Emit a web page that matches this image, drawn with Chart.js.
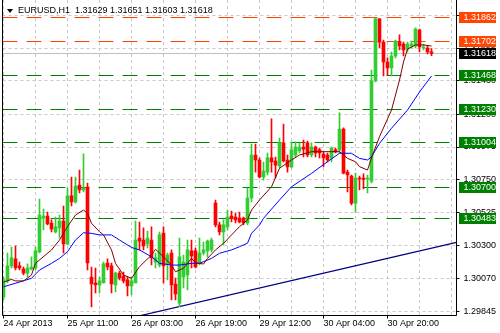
<!DOCTYPE html>
<html>
<head>
<meta charset="utf-8">
<script src="https://cdn.jsdelivr.net/npm/chart.js@4.4.1/dist/chart.umd.min.js"></script>
<style>
  html, body { margin: 0; padding: 0; background: #fff; }
  #wrap { position: relative; width: 500px; height: 333px; overflow: hidden; }
  #title { position: absolute; left: 18px; top: 5px; font: 9px 'Liberation Sans'; line-height: 11px; white-space: pre; color: #000; }
  #tri { position: absolute; left: 7px; top: 9px; width: 0; height: 0;
         border-left: 3px solid transparent; border-right: 3px solid transparent; border-top: 4px solid #000; }
</style>
</head>
<body>
<div id="wrap">
  <canvas id="chart" width="500" height="333"></canvas>
  <div id="tri"></div>
  <div id="title"></div>
</div>
<script>
const symbol = 'EURUSD,H1';

// hourly bars
const opens = [1.29945,1.30055,1.30158,1.30206,1.30158,1.30137,1.30109,1.30137,1.30144,1.30254,
  1.30487,1.30501,1.30453,1.30391,1.30419,1.30467,1.30309,1.30639,1.30597,1.30714,
  1.30680,1.30700,1.30082,1.30041,1.30028,1.30041,1.30178,1.30158,1.30028,1.30109,
  1.30089,1.30062,1.30021,1.30041,1.30350,1.30336,1.30309,1.30336,1.30185,1.30165,
  1.30384,1.30171,1.30247,1.30034,1.29903,1.30082,1.30096,1.30261,1.30261,1.30178,
  1.30247,1.30261,1.30268,1.30590,1.30440,1.30391,1.30426,1.30501,1.30494,1.30487,
  1.30487,1.30453,1.30625,1.30920,1.30886,1.30769,1.30803,1.30900,1.30879,1.30845,
  1.31003,1.30886,1.30838,1.30920,1.30948,1.30975,1.31003,1.30920,1.30975,1.30955,
  1.30927,1.30920,1.30900,1.30955,1.30955,1.31099,1.30803,1.30776,1.30590,1.30762,
  1.30762,1.30755,1.30741,1.31429,1.31855,1.31696,1.31559,1.31518,1.31600,1.31696,
  1.31683,1.31648,1.31669,1.31669,1.31779,1.31655,1.31655,1.31629];
const highs = [1.30082,1.30247,1.30288,1.30295,1.30185,1.30151,1.30172,1.30220,1.30288,1.30618,
  1.30549,1.30528,1.30474,1.30494,1.30508,1.30570,1.30693,1.30769,1.30769,1.30817,
  1.30928,1.30727,1.30151,1.30144,1.30082,1.30185,1.30206,1.30178,1.30116,1.30123,
  1.30116,1.30082,1.30082,1.30467,1.30460,1.30419,1.30398,1.30426,1.30247,1.30391,
  1.30426,1.30247,1.30268,1.30075,1.30350,1.30233,1.30336,1.30336,1.30281,1.30350,
  1.30322,1.30336,1.30350,1.30611,1.30460,1.30474,1.30542,1.30535,1.30521,1.30528,
  1.30494,1.30693,1.30996,1.30996,1.30900,1.30872,1.30934,1.31168,1.30906,1.31037,
  1.31133,1.30920,1.31010,1.31010,1.31003,1.31023,1.31016,1.31003,1.30982,1.30968,
  1.30941,1.30934,1.30975,1.30968,1.31209,1.31106,1.30817,1.30783,1.30796,1.30776,
  1.30790,1.30783,1.31504,1.31862,1.31858,1.31710,1.31587,1.31628,1.31710,1.31745,
  1.31696,1.31696,1.31703,1.31793,1.31786,1.31683,1.31669,1.31651];
const lows = [1.29924,1.30041,1.30144,1.30130,1.30130,1.30096,1.30082,1.30130,1.30130,1.30247,
  1.30405,1.30440,1.30391,1.30384,1.30350,1.30247,1.30302,1.30570,1.30590,1.30659,
  1.30666,1.30130,1.29876,1.29972,1.29972,1.30041,1.30130,1.29972,1.29979,1.30062,
  1.30041,1.29952,1.29959,1.30041,1.30268,1.30268,1.30281,1.30165,1.30144,1.30151,
  1.30041,1.30062,1.29924,1.29924,1.29876,1.30007,1.29993,1.30144,1.30144,1.30165,
  1.30233,1.30220,1.30254,1.30426,1.30371,1.30302,1.30405,1.30460,1.30453,1.30453,
  1.30440,1.30440,1.30597,1.30803,1.30762,1.30748,1.30783,1.30803,1.30762,1.30831,
  1.30872,1.30803,1.30831,1.30907,1.30934,1.30907,1.30907,1.30907,1.30907,1.30900,
  1.30838,1.30872,1.30872,1.30934,1.30934,1.30790,1.30666,1.30577,1.30528,1.30680,
  1.30687,1.30659,1.30728,1.31422,1.31655,1.31463,1.31470,1.31463,1.31587,1.31642,
  1.31600,1.31628,1.31655,1.31655,1.31628,1.31642,1.31614,1.31603];
const closes = [1.30062,1.30158,1.30213,1.30144,1.30144,1.30109,1.30144,1.30151,1.30261,1.30508,
  1.30501,1.30447,1.30412,1.30426,1.30467,1.30309,1.30639,1.30597,1.30707,1.30680,
  1.30693,1.30178,1.30034,1.30028,1.30055,1.30172,1.30151,1.30034,1.30109,1.30075,
  1.30055,1.30021,1.30055,1.30336,1.30329,1.30295,1.30350,1.30213,1.30213,1.30371,
  1.30158,1.30233,1.30028,1.29965,1.30220,1.30185,1.30268,1.30226,1.30151,1.30247,
  1.30268,1.30329,1.30336,1.30440,1.30391,1.30440,1.30494,1.30487,1.30474,1.30460,
  1.30453,1.30625,1.30920,1.30886,1.30769,1.30810,1.30900,1.30872,1.30851,1.31003,
  1.30879,1.30838,1.30955,1.30975,1.30975,1.30961,1.30920,1.30975,1.30934,1.30934,
  1.30900,1.30886,1.30968,1.30941,1.31099,1.30796,1.30783,1.30590,1.30762,1.30755,
  1.30752,1.30762,1.31429,1.31855,1.31696,1.31559,1.31518,1.31600,1.31703,1.31669,
  1.31642,1.31683,1.31683,1.31786,1.31662,1.31662,1.31628,1.31618];

// moving averages, read at selected bars
const fastMaBars = [0,2,3,5,7,8,12,14,16,18,20,21,22,24,25,27,28,30,32,34,37,38,40,42,43,45,47,48,50,51,53,55,57,59,61,62,64,67,69,72,74,77,79,82,84,86,88,89,91,92,94,97,99,100,101,103,105,107];
const fastMaVals = [1.30046,1.30066,1.30055,1.30055,1.30096,1.30176,1.30268,1.30336,1.30428,1.30508,1.30542,1.30520,1.30451,1.30393,1.30371,1.30268,1.30176,1.30096,1.30073,1.30153,1.30233,1.30272,1.30221,1.30164,1.30118,1.30142,1.30210,1.30180,1.30171,1.30210,1.30268,1.30313,1.30371,1.30428,1.30474,1.30542,1.30611,1.30702,1.30829,1.30886,1.30920,1.30943,1.30943,1.30943,1.30943,1.30897,1.30874,1.30840,1.30817,1.30900,1.31046,1.31229,1.31435,1.31559,1.31648,1.31676,1.31676,1.31669];
const slowMaBars = [0,3,7,9,12,14,16,18,20,22,24,27,29,32,34,37,39,42,44,47,49,52,54,57,59,61,62,64,65,69,72,77,81,84,87,89,91,92,94,97,101,104,107];
const slowMaVals = [1.30015,1.30039,1.30073,1.30130,1.30176,1.30210,1.30256,1.30336,1.30386,1.30382,1.30371,1.30371,1.30336,1.30285,1.30268,1.30221,1.30176,1.30164,1.30164,1.30176,1.30176,1.30210,1.30245,1.30268,1.30290,1.30314,1.30382,1.30439,1.30485,1.30611,1.30702,1.30794,1.30874,1.30932,1.30932,1.30897,1.30886,1.30908,1.31000,1.31104,1.31229,1.31353,1.31463];

// trend line anchors
const trendBars = [20, 113.25];
const trendVals = [1.29726, 1.30320];

// horizontal levels
const resistLevels = [1.31862, 1.31702];
const supportLevels = [1.31468, 1.31230, 1.31004, 1.30700, 1.30483];

// axes
const priceTicks = [1.29845, 1.30070, 1.30300, 1.30525, 1.30750, 1.30975, 1.31200, 1.31430, 1.31655, 1.31880];
const gridBars = [0, 8, 16, 24, 32, 40, 48, 56, 64, 72, 80, 88, 96, 104, 112];
const labelBars = [0, 16, 32, 48, 64, 80, 96];
const labelTexts = ['24 Apr 2013', '25 Apr 11:00', '26 Apr 03:00', '26 Apr 19:00', '29 Apr 12:00', '30 Apr 04:00', '30 Apr 20:00'];

const last = closes.length - 1;
const lastPrice = closes[last];
document.getElementById('title').textContent =
  symbol + '  ' + [opens[last], highs[last], lows[last], closes[last]].map(v => v.toFixed(5)).join(' ');

const X_MIN = -0.25, X_MAX = 113.25;
const GREEN = '#32cd32', RED = '#ff0000';

const idx = opens.map((_, i) => i);
const isUp = i => closes[i] >= opens[i];
const upIdx = idx.filter(isUp);
const dnIdx = idx.filter(i => !isUp(i));

function levelSet(v, color, dash) {
  return {
    type: 'line', data: [{x: X_MIN, y: v}, {x: X_MAX, y: v}],
    borderColor: color, borderWidth: 1, borderDash: dash,
    pointRadius: 0, order: 6, snap: true
  };
}

const datasets = [
  ...resistLevels.map(v => levelSet(v, '#ff4500', [15, 9])),
  ...supportLevels.map(v => levelSet(v, '#008000', [15, 9])),
  levelSet(lastPrice, '#c0c0c0', []),
  {type: 'line', data: trendBars.map((b, k) => ({x: b, y: trendVals[k]})),
   borderColor: '#000080', borderWidth: 1.2, pointRadius: 0, order: 4},
  {type: 'bar', data: upIdx.map(i => ({x: i, y: [lows[i], highs[i]]})),
   backgroundColor: GREEN, barThickness: 1, grouped: false, order: 3},
  {type: 'bar', data: dnIdx.map(i => ({x: i, y: [lows[i], highs[i]]})),
   backgroundColor: RED, barThickness: 1, grouped: false, order: 3},
  {type: 'bar', data: upIdx.map(i => ({x: i, y: [opens[i], closes[i]]})),
   backgroundColor: GREEN, barThickness: 3, minBarLength: 1, grouped: false, order: 2},
  {type: 'bar', data: dnIdx.map(i => ({x: i, y: [opens[i], closes[i]]})),
   backgroundColor: RED, barThickness: 3, minBarLength: 1, grouped: false, order: 2},
  {type: 'line', data: slowMaBars.map((b, k) => ({x: b, y: slowMaVals[k]})),
   borderColor: '#0000ff', borderWidth: 1, pointRadius: 0, order: 1},
  {type: 'line', data: fastMaBars.map((b, k) => ({x: b, y: fastMaVals[k]})),
   borderColor: '#800000', borderWidth: 1, pointRadius: 0, order: 0}
];

// keep horizontal level lines on whole pixels
const snapLines = {
  id: 'snapLines',
  beforeDatasetDraw(chart, args) {
    const ds = chart.data.datasets[args.index];
    if (!ds.snap) return;
    const py = chart.scales.y.getPixelForValue(ds.data[0].y);
    chart.ctx.save();
    chart.ctx.translate(0, Math.floor(py) + 0.5 - py);
  },
  afterDatasetDraw(chart, args) {
    if (chart.data.datasets[args.index].snap) chart.ctx.restore();
  }
};

// frame and price boxes on the right axis
const mtDecor = {
  id: 'mtDecor',
  afterDraw(chart) {
    const {ctx, chartArea: a, scales: {y}} = chart;
    ctx.save();
    ctx.strokeStyle = '#000';
    ctx.lineWidth = 1;
    ctx.beginPath();
    ctx.moveTo(a.left, 0); ctx.lineTo(a.left, a.bottom);
    ctx.lineTo(a.right, a.bottom); ctx.lineTo(a.right, 0);
    ctx.stroke();
    const boxes = [
      ...resistLevels.map(v => [v, '#ff4500']),
      ...supportLevels.map(v => [v, '#008000']),
      [lastPrice, '#000000']
    ];
    ctx.font = '9px "Liberation Sans"';
    ctx.textBaseline = 'middle';
    boxes.forEach(([v, col]) => {
      const py = Math.floor(y.getPixelForValue(v)) - 5;
      ctx.fillStyle = col;
      ctx.fillRect(459, py, 37, 11);
      ctx.fillStyle = '#fff';
      ctx.fillText(v.toFixed(5), 463.5, py + 6);
    });
    ctx.restore();
  }
};

Chart.defaults.font.family = 'Liberation Sans';
Chart.defaults.font.size = 9;
Chart.defaults.color = '#000';

new Chart(document.getElementById('chart'), {
  type: 'line',
  data: {datasets},
  options: {
    responsive: false,
    animation: false,
    events: [],
    layout: {padding: {left: 2.5, top: 0, right: 0, bottom: 0}, autoPadding: false},
    plugins: {legend: {display: false}, tooltip: {enabled: false}},
    scales: {
      x: {
        type: 'linear', min: X_MIN, max: X_MAX, offset: false,
        afterBuildTicks: s => { s.ticks = gridBars.map(v => ({value: v})); },
        afterFit: s => { s.height = 17.5; s.paddingLeft = 0; s.paddingRight = 0; },
        ticks: {
          autoSkip: false, maxRotation: 0, minRotation: 0, align: 'start', padding: 0, color: '#000',
          callback: v => { const k = labelBars.indexOf(v); return k < 0 ? '' : labelTexts[k]; }
        },
        grid: {
          offset: false, color: '#c8c8c8', lineWidth: 1, tickLength: 3,
          tickColor: c => (c.tick && labelBars.includes(c.tick.value)) ? '#000' : 'rgba(0,0,0,0)'
        },
        border: {display: false, dash: [3, 3]}
      },
      y: {
        type: 'linear', position: 'right', min: 1.298175, max: 1.31985,
        afterBuildTicks: s => { s.ticks = priceTicks.map(v => ({value: v})); },
        afterFit: s => { s.width = 43.5; s.paddingTop = 0; s.paddingBottom = 0; },
        ticks: {padding: 4, color: '#000', callback: v => Number(v).toFixed(5)},
        grid: {color: '#c8c8c8', lineWidth: 1, tickLength: 3, tickColor: '#000'},
        border: {display: false, dash: [3, 3]}
      }
    }
  },
  plugins: [snapLines, mtDecor]
});
</script>
</body>
</html>
